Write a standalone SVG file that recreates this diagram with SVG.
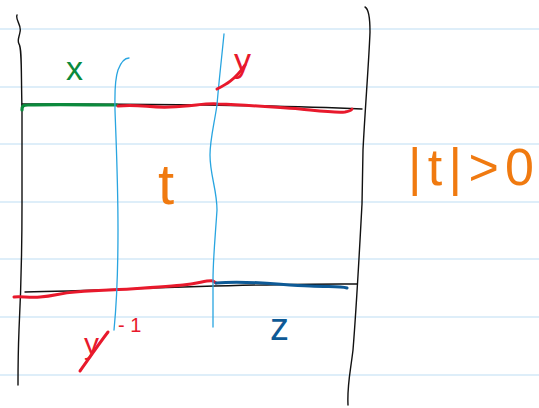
<svg xmlns="http://www.w3.org/2000/svg" width="539" height="408" viewBox="0 0 539 408">
<style>
.rule{stroke:#d3e9f7;stroke-width:1.5}
.ink{fill:none;stroke-linecap:round;stroke-linejoin:round}
.blk{stroke:#111;stroke-width:1.4}
.red{stroke:#e8192c;stroke-width:3}
.grn{stroke:#0b8a3c;stroke-width:3.2}
.blu{stroke:#0e5a96;stroke-width:3}
.cyan{stroke:#29a5e0;stroke-width:1.3}
text{font-family:"Liberation Sans","DejaVu Sans",sans-serif;font-weight:normal}
</style>
<rect width="539" height="408" fill="#fff"/>
<g id="paper">
<line class="rule" x1="0" y1="29" x2="539" y2="29"/>
<line class="rule" x1="0" y1="87" x2="539" y2="87"/>
<line class="rule" x1="0" y1="144" x2="539" y2="144"/>
<line class="rule" x1="0" y1="202" x2="539" y2="202"/>
<line class="rule" x1="0" y1="259" x2="539" y2="259"/>
<line class="rule" x1="0" y1="317" x2="539" y2="317"/>
<line class="rule" x1="0" y1="375" x2="539" y2="375"/>
</g>
<g id="frame">
<path class="ink blk" d="M17,15 C15,20 22,25 20,32 C19,38 17,40 19,44 C22,48 21,70 22,110 L22,204 C22,250 21,290 19,330 C18,355 18,370 18,385"/>
<path class="ink blk" d="M365,7 C369,9 370,18 370,32 C369,60 365,110 363,150 L362,204 C360,240 357,300 353,350 C350,375 347,385 348,405"/>
<path class="ink blk" d="M22,104 C120,104 250,104 362,109"/>
<path class="ink blk" d="M25,292 C120,290 250,283 357,284"/>
</g>
<g id="connectors">
<path class="ink grn" d="M22,110 C22,106 23,105 28,105 C60,104 90,105 117,105"/>
<path class="ink red" d="M118,106 C140,104 150,108 170,107 C195,106 205,103 218,104 C250,105 270,107 300,109 C320,111 335,113 345,112 C350,111 352,110 352,109"/>
<path class="ink red" d="M14,297 C20,296 30,298 40,297 C55,296 60,293 75,292 C100,290 110,290 130,289 C160,287 175,286 183,285 C200,283 208,280 213,281 L216,283"/>
<path class="ink blu" d="M216,283 C250,280 280,285 310,286 C330,287 340,286 347,288"/>
<path class="ink cyan" d="M129,58 C124,58 121,62 118,70 C114,82 115,95 115,110 C116,140 118,180 118,230 C118,270 117,300 114,330"/>
<path class="ink cyan" d="M224,34 C222,55 219,80 217,105 C214,125 210,140 210,155 C210,175 217,190 217,210 C215,240 213,260 213,280 L213,327"/>
<path class="ink red" d="M217,89 C225,85 235,80 245,65"/>
<path class="ink red" d="M80,371 C88,360 98,345 108,332"/>
</g>
<g id="label-x"><text x="66" y="80" font-size="34" fill="#0b8a3c">x</text></g>
<g id="label-y"><text x="234" y="72" font-size="34" fill="#e8192c">y</text></g>
<g id="label-t"><text x="158" y="204" font-size="58" fill="#f07a10">t</text></g>
<g id="label-abs"><text x="408" y="185" font-size="52" fill="#f07a10" textLength="126" lengthAdjust="spacing">|t|&gt;0</text></g>
<g id="label-yinv"><text x="84" y="354" font-size="30" fill="#e8192c">y</text><text x="118" y="332" font-size="20" fill="#e8192c">- 1</text></g>
<g id="label-z"><text x="270" y="340" font-size="38" fill="#0e5a96">z</text></g>
</svg>
